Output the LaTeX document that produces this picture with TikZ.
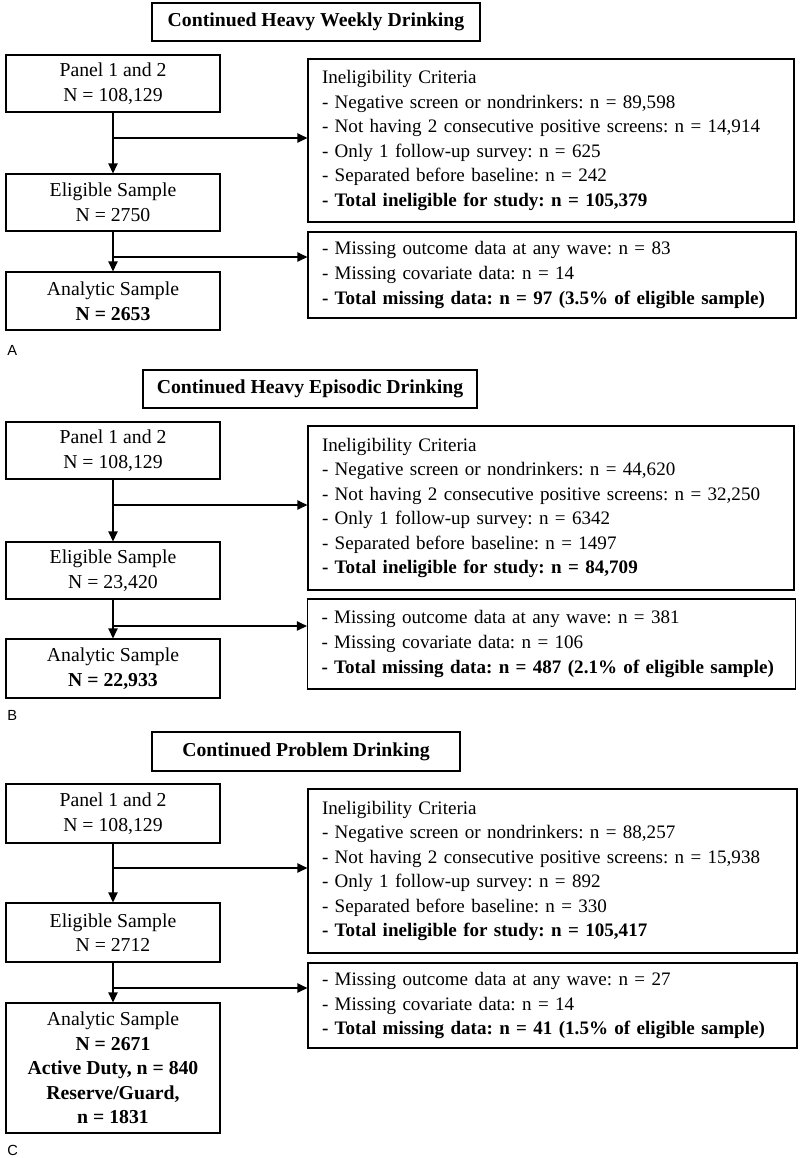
\documentclass[tikz,border=0pt]{standalone}
\usepackage{fontspec}
\setmainfont{Liberation Serif}
\newfontfamily\labfont{Liberation Sans}
\usetikzlibrary{arrows.meta}
\frenchspacing
\hyphenpenalty=10000
\exhyphenpenalty=10000
\begin{document}
\begin{tikzpicture}[x=0.75pt,y=-0.75pt,
  box/.style={draw, line width=0.9pt, inner sep=0pt, align=center, font=\fontsize{14.8}{18.4}\selectfont},
  lbox/.style={box, align=left, inner xsep=10.5pt, text width=#1, font=\fontsize{14.3}{18.4}\selectfont},
  sbox/.style={box, minimum width=160.5pt, minimum height=#1},
  arr/.style={line width=0.9pt, -{Triangle[length=7.5pt,width=7pt]}},
  plabel/.style={font=\labfont\fontsize{11}{13}\selectfont, anchor=west, inner sep=0pt}
]
\useasboundingbox (0,0) rectangle (800,1158);

% ---------------- Panel A ----------------
\node[box, minimum width=246pt, minimum height=28.5pt] (tA) at (316,22) {\textbf{Continued Heavy Weekly Drinking}};
\node[sbox=42.75pt] (pA) at (113,83.5) {Panel 1 and 2\\N = 108,129};
\node[lbox=343.5pt, minimum height=122.25pt] (iA) at (551,140.5) {Ineligibility Criteria\\- Negative screen or nondrinkers: n = 89,598\\- Not having 2 consecutive positive screens: n = 14,914\\- Only 1 follow-up survey: n = 625\\- Separated before baseline: n = 242\\\textbf{- Total ineligible for study: n = 105,379}};
\node[sbox=42.75pt] (eA) at (113,202.5) {Eligible Sample\\N = 2750};
\node[lbox=345pt, minimum height=64.5pt] (mA) at (552,275) {- Missing outcome data at any wave: n = 83\\- Missing covariate data: n = 14\\\textbf{- Total missing data: n = 97 (3.5\% of eligible sample)}};
\node[sbox=43.5pt] (aA) at (113,301) {Analytic Sample\\\textbf{N = 2653}};
\node[plabel] (lA) at (7,350) {A};
\draw[arr] (pA) -- (eA);
\coordinate (jA1) at (113,138);
\draw[arr] (jA1) -- (jA1 -| iA.west);
\draw[arr] (eA) -- (aA);
\coordinate (jA2) at (113,257);
\draw[arr] (jA2) -- (jA2 -| mA.west);

% ---------------- Panel B ----------------
\node[box, minimum width=250.5pt, minimum height=28.5pt] (tB) at (310,389) {\textbf{Continued Heavy Episodic Drinking}};
\node[sbox=42.75pt] (pB) at (113,450.5) {Panel 1 and 2\\N = 108,129};
\node[lbox=343.5pt, minimum height=123pt] (iB) at (551,508) {Ineligibility Criteria\\- Negative screen or nondrinkers: n = 44,620\\- Not having 2 consecutive positive screens: n = 32,250\\- Only 1 follow-up survey: n = 6342\\- Separated before baseline: n = 1497\\\textbf{- Total ineligible for study: n = 84,709}};
\node[sbox=42.75pt] (eB) at (113,570.5) {Eligible Sample\\N = 23,420};
\node[lbox=345pt, minimum height=67.5pt] (mB) at (551.5,644) {- Missing outcome data at any wave: n = 381\\- Missing covariate data: n = 106\\\textbf{- Total missing data: n = 487 (2.1\% of eligible sample)}};
\node[sbox=44.25pt] (aB) at (113,668.5) {Analytic Sample\\\textbf{N = 22,933}};
\node[plabel] (lB) at (7,715) {B};
\draw[arr] (pB) -- (eB);
\coordinate (jB1) at (113,505);
\draw[arr] (jB1) -- (jB1 -| iB.west);
\draw[arr] (eB) -- (aB);
\coordinate (jB2) at (113,626);
\draw[arr] (jB2) -- (jB2 -| mB.west);

% ---------------- Panel C ----------------
\node[box, minimum width=231pt, minimum height=29.25pt] (tC) at (306,751.5) {\textbf{Continued Problem Drinking}};
\node[sbox=44.25pt] (pC) at (113,813.5) {Panel 1 and 2\\N = 108,129};
\node[lbox=345.75pt, minimum height=123pt] (iC) at (552.5,871) {Ineligibility Criteria\\- Negative screen or nondrinkers: n = 88,257\\- Not having 2 consecutive positive screens: n = 15,938\\- Only 1 follow-up survey: n = 892\\- Separated before baseline: n = 330\\\textbf{- Total ineligible for study: n = 105,417}};
\node[sbox=44.25pt] (eC) at (113,932.5) {Eligible Sample\\N = 2712};
\node[lbox=345.75pt, minimum height=63.75pt] (mC) at (552.5,1005.5) {- Missing outcome data at any wave: n = 27\\- Missing covariate data: n = 14\\\textbf{- Total missing data: n = 41 (1.5\% of eligible sample)}};
\node[sbox=97.5pt] (aC) at (113,1068) {Analytic Sample\\\textbf{N = 2671}\\\textbf{Active Duty, n = 840}\\\textbf{Reserve/Guard,}\\\textbf{n = 1831}};
\node[plabel] (lC) at (7,1150) {C};
\draw[arr] (pC) -- (eC);
\coordinate (jC1) at (113,868);
\draw[arr] (jC1) -- (jC1 -| iC.west);
\draw[arr] (eC) -- (aC);
\coordinate (jC2) at (113,988);
\draw[arr] (jC2) -- (jC2 -| mC.west);
\end{tikzpicture}
\end{document}
